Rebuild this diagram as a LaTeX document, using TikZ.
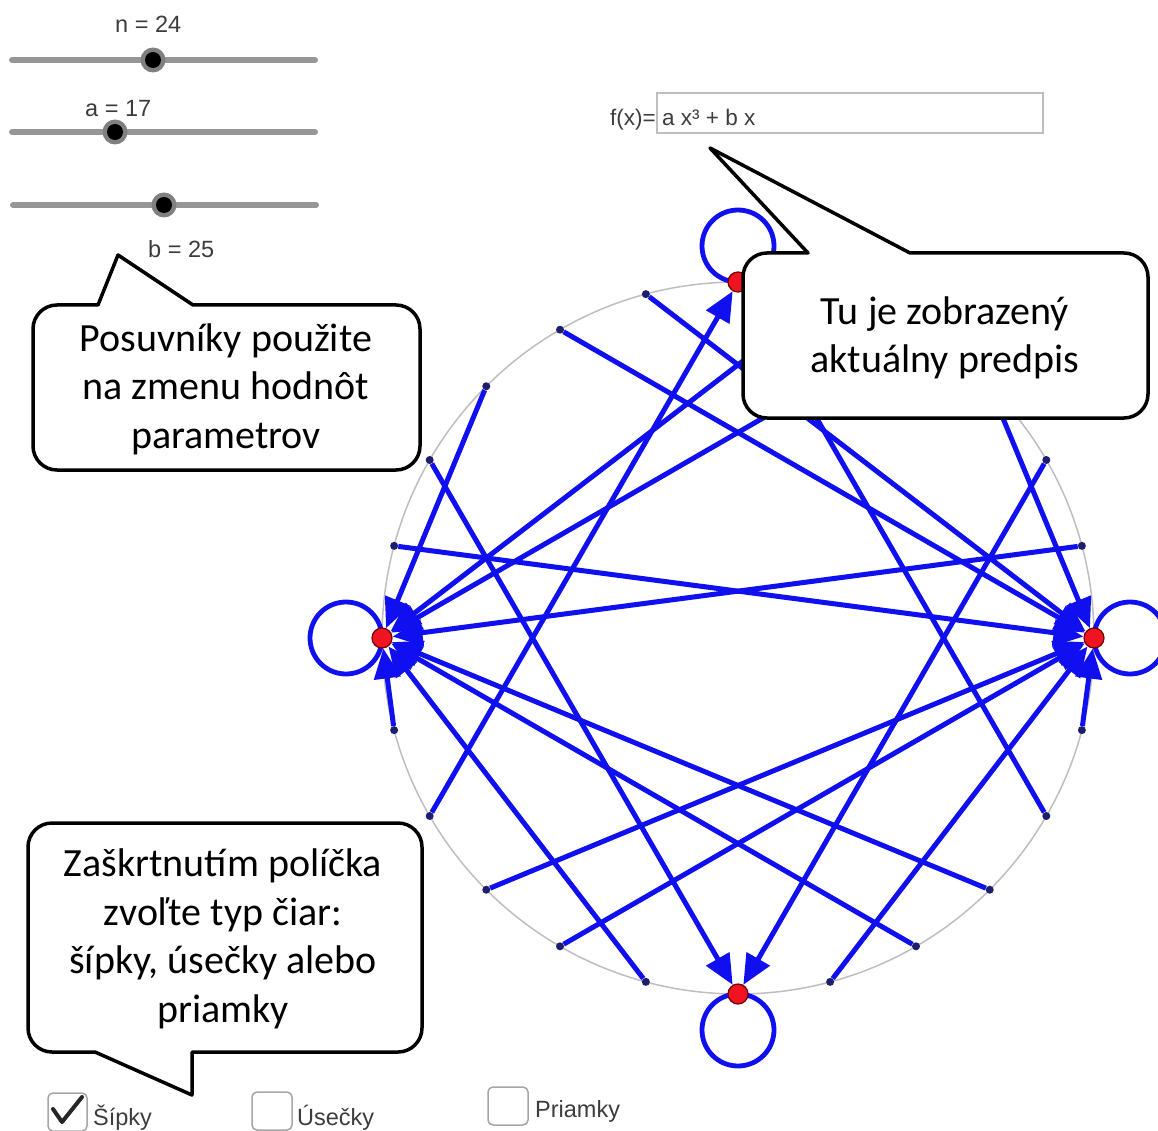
\documentclass[tikz,border=0pt]{standalone}
\usepackage{fontspec}
\setmainfont{Liberation Sans}
\newfontfamily\callfont{Carlito}
\usetikzlibrary{arrows.meta}
\pgfdeclarelayer{pts}
\pgfdeclarelayer{top}
\pgfsetlayers{main,pts,top}
\definecolor{gvec}{RGB}{15,15,240}
\definecolor{gdot}{RGB}{30,30,110}
\definecolor{gred}{RGB}{240,20,35}
\definecolor{gredline}{RGB}{110,0,0}
\definecolor{gtext}{RGB}{60,60,60}
\definecolor{gslider}{RGB}{150,150,150}
\definecolor{gcirc}{RGB}{190,190,190}
\begin{document}
\begin{tikzpicture}[x=1pt,y=-1pt,
  vec/.style={draw=gvec, line width=5pt, -{Triangle[length=30pt,width=26pt]}},
  loopline/.style={draw=gvec, line width=4.8pt},
  smallpt/.style={circle, fill=gdot, inner sep=0pt, minimum size=8pt},
  fixpt/.style={circle, fill=gred, draw=gredline, line width=1.2pt, inner sep=0pt, minimum size=20pt},
  lbl/.style={font=\fontsize{23.5}{28}\selectfont, text=gtext, inner sep=0pt, anchor=base west},
  smlbl/.style={font=\fontsize{22.5}{27}\selectfont, text=gtext, inner sep=0pt, anchor=base west},
  calltext/.style={font=\callfont\fontsize{40}{48.5}\selectfont, align=center, inner sep=0pt},
  callbox/.style={draw=black, fill=white, line width=3.5pt, line join=round},
  slidertrack/.style={draw=gslider, line width=6pt, line cap=round},
  chk/.style={draw=gray!70, line width=1.5pt, rounded corners=5pt}
]
\useasboundingbox (0,0) rectangle (1158,1131);

% ---- sliders ----
\draw[slidertrack] (12,60) -- (315,60);
\fill[black!50] (153,60) circle[radius=12.5];
\fill[black] (153,60) circle[radius=8];
\node[lbl] (ln) at (115,33) {n = 24};

\draw[slidertrack] (12,132) -- (315,132);
\fill[black!50] (115,132) circle[radius=12.5];
\fill[black] (115,132) circle[radius=8];
\node[lbl] (la) at (85,117) {a = 17};

\draw[slidertrack] (13,205) -- (316,205);
\fill[black!50] (164,205) circle[radius=12.5];
\fill[black] (164,205) circle[radius=8];
\node[lbl] (lb) at (148,258) {b = 25};

% ---- input box ----
\node[smlbl] (fx) at (610,126) {f(x)=};
\draw[gcirc, line width=1.5pt] (657,93) rectangle (1043,133);
\node[smlbl] (fxv) at (662,126) {a x³ + b x};

% ---- circle ----
\draw[gcirc, line width=1.5pt] (738,638) circle[radius=356];

% ---- points ----
\begin{pgfonlayer}{pts}
\foreach \k in {1,2,3,4,5,7,8,9,10,11,13,14,15,16,17,19,20,21,22,23}
  \node[smallpt] (p\k) at ({738+356*cos(90+15*\k)},{638-356*sin(90+15*\k)}) {};
\foreach \k in {0,6,12,18}
  \node[fixpt] (p\k) at ({738+356*cos(90+15*\k)},{638-356*sin(90+15*\k)}) {};
\end{pgfonlayer}

% ---- loops ----
\draw[loopline] ([yshift=36pt]p0.center) circle[radius=36];
\draw[loopline] ([xshift=-36pt]p6.center) circle[radius=36];
\draw[loopline] ([yshift=-36pt]p12.center) circle[radius=36];
\draw[loopline] ([xshift=36pt]p18.center) circle[radius=36];

% ---- arrows k -> 17k^3+25k mod 24 ----
\foreach \s/\t in {1/18,2/18,3/6,4/12,5/18,7/6,8/0,9/18,10/18,11/6,13/18,14/6,15/6,16/0,17/18,19/6,20/12,21/18,22/6,23/6}
  \draw[vec] (p\s) -- (p\t);

% ---- callouts ----
\begin{pgfonlayer}{top}
\draw[callbox] (193,305) -- (396,305) arc[start angle=270,end angle=360,radius=24]
  -- (420,446) arc[start angle=0,end angle=90,radius=24]
  -- (57,470) arc[start angle=90,end angle=180,radius=24]
  -- (33,329) arc[start angle=180,end angle=270,radius=24]
  -- (98,305) -- (118,255) -- cycle;
\node[calltext] (cA) at (226,389) {Posuvníky použite\\na zmenu hodnôt\\parametrov};

\draw[callbox] (910,253) -- (1124,253) arc[start angle=270,end angle=360,radius=24]
  -- (1148,394) arc[start angle=0,end angle=90,radius=24]
  -- (767,418) arc[start angle=90,end angle=180,radius=24]
  -- (743,277) arc[start angle=180,end angle=270,radius=24]
  -- (808,253) -- (710,148) -- cycle;
\node[calltext] (cB) at (945,338) {Tu je zobrazený\\aktuálny predpis};

\draw[callbox] (52,823) -- (398,823) arc[start angle=270,end angle=360,radius=24]
  -- (422,1028) arc[start angle=0,end angle=90,radius=24]
  -- (192,1052) -- (192,1095) -- (95,1052)
  -- (52,1052) arc[start angle=90,end angle=180,radius=24]
  -- (28,847) arc[start angle=180,end angle=270,radius=24] -- cycle;
\node[calltext] (cC) at (223,939) {Zaškrtnutím políčka\\zvoľte typ čiar:\\šípky, úsečky alebo\\priamky};
\end{pgfonlayer}

% ---- checkboxes ----
\draw[chk] (48,1093) rectangle (87,1131);
\draw[black!85, line width=4pt, line cap=round, line join=round] (53,1109) -- (62,1122) -- (82,1097);
\node[lbl] (cs) at (93,1125) {Šípky};
\draw[chk] (252,1092) rectangle (292,1130);
\node[lbl] (cu) at (297,1125) {Úsečky};
\draw[chk] (488,1087) rectangle (528,1125);
\node[lbl] (cp) at (535,1117) {Priamky};
\end{tikzpicture}
\end{document}
